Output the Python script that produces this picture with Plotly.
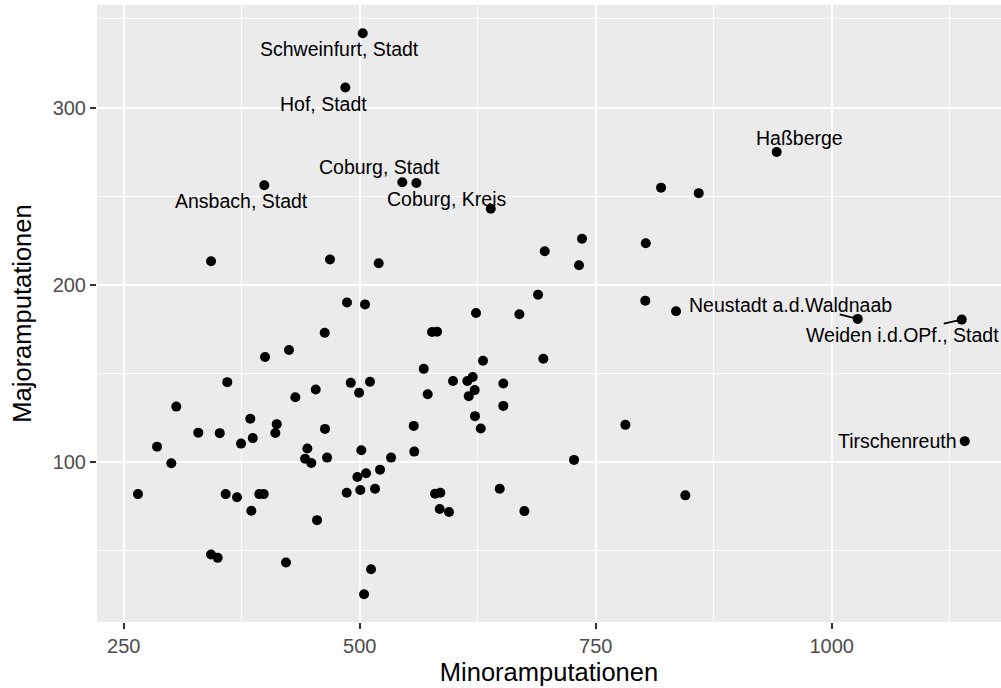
import plotly.graph_objects as go

# Kreise / kreisfreie Städte in Bayern: Minor- vs. Majoramputationen
kreis = [
    "Schweinfurt, Stadt", "Hof, Stadt", "Ansbach, Stadt", "Coburg, Stadt",
    "Coburg, Kreis", "Haßberge", "Neustadt a.d.Waldnaab",
    "Weiden i.d.OPf., Stadt", "Tirschenreuth",
] + [""] * 87

minor = [
    503.2, 484.8, 398.9, 545.1, 560.0, 941.7, 1027.5, 1137.7, 1140.9,
    342.5, 468.5, 520.1, 486.5, 505.6, 623.2, 669.1, 688.9, 696.0, 638.8,
    819.2, 859.1, 735.5, 732.3, 803.0, 802.5, 835.1, 694.5, 781.4, 727.0,
    844.9, 462.9, 576.6, 581.9, 399.7, 425.1, 630.6, 359.7, 305.7, 453.4,
    431.8, 490.5, 510.9, 499.3, 567.8, 572.0, 598.8, 614.0, 619.7, 621.8,
    615.5, 652.1, 652.1, 622.1, 628.2, 557.2, 557.8, 384.1, 412.1, 410.6,
    329.0, 351.7, 374.3, 386.7, 285.3, 300.4, 463.2, 444.5, 442.1, 448.7,
    465.4, 501.7, 533.2, 521.5, 497.5, 506.7, 486.2, 500.6, 516.2, 265.1,
    358.0, 370.0, 393.6, 398.3, 385.2, 454.8, 579.8, 585.4, 584.7, 594.6,
    648.3, 674.4, 342.5, 349.6, 421.9, 512.0, 504.6,
]

major = [
    342.0, 311.3, 256.1, 257.8, 257.4, 274.9, 180.7, 180.3, 111.7,
    213.2, 214.2, 212.1, 190.0, 188.9, 184.0, 183.3, 194.4, 218.9, 242.9,
    254.8, 251.7, 225.9, 211.0, 223.4, 191.0, 185.0, 158.2, 120.9, 101.1,
    81.1, 172.9, 173.3, 173.5, 159.2, 163.1, 157.1, 145.0, 131.2, 140.8,
    136.5, 144.6, 145.2, 139.0, 152.5, 138.2, 145.6, 145.6, 147.9, 140.5,
    137.1, 144.2, 131.6, 125.8, 118.8, 120.3, 105.8, 124.3, 121.3, 116.3,
    116.5, 116.2, 110.3, 113.4, 108.6, 99.2, 118.6, 107.5, 101.8, 99.4,
    102.4, 106.6, 102.4, 95.6, 91.5, 93.6, 82.6, 84.1, 84.8, 81.8,
    81.8, 80.0, 81.8, 81.8, 72.4, 67.1, 82.0, 82.6, 73.4, 71.7,
    84.8, 72.2, 47.7, 45.8, 43.2, 39.4, 25.3,
]

x_ticks = [250, 500, 750, 1000]
y_ticks = [100, 200, 300]

# label placement in screen pixels (dx right, dy down) and, where a
# connector segment is drawn, the pixel offset of its far end
label_pos = {
    "Schweinfurt, Stadt": (-23, 16, None),
    "Hof, Stadt": (-22, 16, None),
    "Ansbach, Stadt": (-22.5, 15.7, None),
    "Coburg, Stadt": (-23, -15, None),
    "Coburg, Kreis": (30, 15.6, None),
    "Haßberge": (22.3, -14.4, None),
    "Neustadt a.d.Waldnaab": (-67.7, -14.3, (-18, -4.5)),
    "Weiden i.d.OPf., Stadt": (-59.7, 15, (-18, 4)),
    "Tirschenreuth": (-67.7, 0, None),
}

FONT = "Liberation Sans, Arial, Helvetica, sans-serif"

fig = go.Figure()
fig.add_trace(go.Scatter(
    x=minor, y=major, mode="markers",
    marker=dict(color="black", size=10, line=dict(width=0)),
    hoverinfo="skip", showlegend=False,
))

annotations = []
shapes = []
for name, xv, yv in zip(kreis, minor, major):
    if not name:
        continue
    dx, dy, seg = label_pos[name]
    annotations.append(dict(
        x=xv, y=yv, xref="x", yref="y", text=name, showarrow=False,
        xshift=dx, yshift=-dy,
        font=dict(family=FONT, size=19.5, color="black"),
    ))
    if seg:
        # short connector anchored at the point, sized in pixels
        shapes.append(dict(
            type="line", xref="x", yref="y",
            xsizemode="pixel", ysizemode="pixel",
            xanchor=xv, yanchor=yv,
            x0=0, y0=0, x1=seg[0], y1=-seg[1],
            line=dict(color="black", width=1.7),
        ))

axis_common = dict(
    showgrid=True, gridcolor="white", gridwidth=2.2,
    zeroline=False, showline=False,
    ticks="outside", ticklen=6, tickwidth=2, tickcolor="#333333",
    tickfont=dict(family=FONT, size=20, color="#4D4D4D"),
)

fig.update_layout(
    width=1001, height=688,
    margin=dict(l=97, r=0, t=5, b=66),
    paper_bgcolor="white", plot_bgcolor="#EBEBEB",
    annotations=annotations,
    shapes=shapes,
    xaxis=dict(
        **axis_common,
        range=[221.7, 1179.3], tickmode="array", tickvals=x_ticks,
        minor=dict(showgrid=True, gridcolor="white", gridwidth=1.1,
                   tickmode="array", tickvals=[375, 625, 875, 1125], ticks=""),
        title=dict(text="Minoramputationen", standoff=7,
                   font=dict(family=FONT, size=25.5, color="black")),
    ),
    yaxis=dict(
        **axis_common,
        range=[9.6, 357.9], tickmode="array", tickvals=y_ticks,
        minor=dict(showgrid=True, gridcolor="white", gridwidth=1.1,
                   tickmode="array", tickvals=[50, 150, 250, 350], ticks=""),
        title=dict(text="Majoramputationen", standoff=13,
                   font=dict(family=FONT, size=25.5, color="black")),
    ),
)

fig.write_html("out.html")
